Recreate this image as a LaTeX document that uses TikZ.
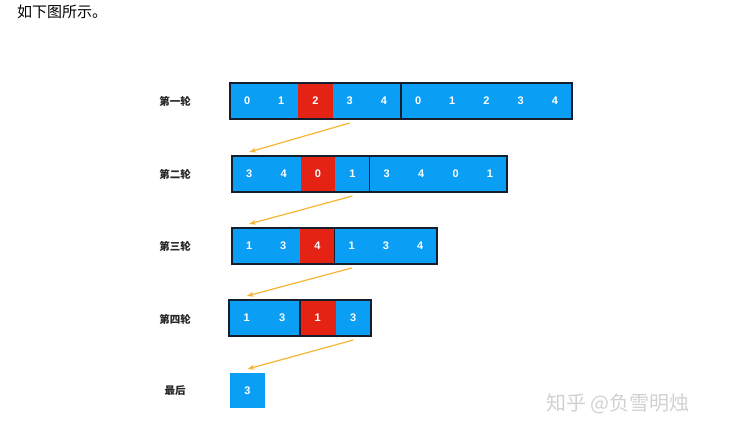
\documentclass[tikz,border=0pt]{standalone}
\usepackage{fontspec}
\setmainfont{Liberation Sans}
\newfontfamily\cjk{Noto Sans CJK SC}
\usetikzlibrary{arrows.meta, positioning}
\definecolor{cellblue}{RGB}{10,158,245}
\definecolor{cellred}{RGB}{228,35,20}
\definecolor{arrorange}{RGB}{245,180,50}
\definecolor{framedark}{RGB}{20,30,45}
\tikzset{
  cell/.style ={rectangle, fill=cellblue, text=white, inner sep=0pt, outer sep=0pt,
                minimum width=34.2pt, minimum height=36pt,
                font=\fontsize{11}{13}\selectfont\bfseries},
  hot/.style  ={cell, fill=cellred},
  frame/.style={draw=framedark, line width=1.6pt},
  lbl/.style  ={font=\cjk\fontsize{10.5}{12}\selectfont\bfseries, text=black!85},
  arr/.style  ={-{Stealth[length=7pt, width=5pt]}, draw=arrorange, line width=1.2pt}
}
\begin{document}
\begin{tikzpicture}[x=1pt, y=-1pt]
    \useasboundingbox (0,0) rectangle (732,429);
    \node[font=\cjk\fontsize{15}{17}\selectfont, anchor=west, inner sep=0pt] (title) at (17,12) {如下图所示。};
    % first round
    \node[lbl] (l1) at (175,101) {第一轮};
    \node[cell, anchor=west] (a0) at (230,101) {0};
    \node[cell, right=0pt of a0] (a1) {1};
    \node[hot, right=0pt of a1] (a2) {2};
    \node[cell, right=0pt of a2] (a3) {3};
    \node[cell, right=0pt of a3] (a4) {4};
    \node[cell, right=0pt of a4] (a5) {0};
    \node[cell, right=0pt of a5] (a6) {1};
    \node[cell, right=0pt of a6] (a7) {2};
    \node[cell, right=0pt of a7] (a8) {3};
    \node[cell, right=0pt of a8] (a9) {4};
    \draw[frame] (a0.north west) rectangle (a9.south east);
    \draw[frame] (a4.north east) -- (a4.south east);
    % second round
    \node[lbl] (l2) at (175,174) {第二轮};
    \node[cell, anchor=west, minimum width=34.4pt] (b0) at (232,174) {3};
    \node[cell, right=0pt of b0, minimum width=34.4pt] (b1) {4};
    \node[hot, right=0pt of b1, minimum width=34.4pt] (b2) {0};
    \node[cell, right=0pt of b2, minimum width=34.4pt] (b3) {1};
    \node[cell, right=0pt of b3, minimum width=34.4pt] (b4) {3};
    \node[cell, right=0pt of b4, minimum width=34.4pt] (b5) {4};
    \node[cell, right=0pt of b5, minimum width=34.4pt] (b6) {0};
    \node[cell, right=0pt of b6, minimum width=34.4pt] (b7) {1};
    \draw[frame] (b0.north west) rectangle (b7.south east);
    \draw[frame] (b3.north east) -- (b3.south east);
    % third round
    \node[lbl] (l3) at (175,246) {第三轮};
    \node[cell, anchor=west] (c0) at (232,246) {1};
    \node[cell, right=0pt of c0] (c1) {3};
    \node[hot, right=0pt of c1] (c2) {4};
    \node[cell, right=0pt of c2] (c3) {1};
    \node[cell, right=0pt of c3] (c4) {3};
    \node[cell, right=0pt of c4] (c5) {4};
    \draw[frame] (c0.north west) rectangle (c5.south east);
    \draw[frame] (c2.north east) -- (c2.south east);
    % fourth round
    \node[lbl] (l4) at (175,319) {第四轮};
    \node[cell, anchor=west, minimum width=35.5pt] (d0) at (229,318) {1};
    \node[cell, right=0pt of d0, minimum width=35.5pt] (d1) {3};
    \node[hot, right=0pt of d1, minimum width=35.5pt] (d2) {1};
    \node[cell, right=0pt of d2, minimum width=35.5pt] (d3) {3};
    \draw[frame] (d0.north west) rectangle (d3.south east);
    \draw[frame] (d1.north east) -- (d1.south east);
    % last
    \node[lbl] (l5) at (175,391) {最后};
    \node[cell, anchor=west, minimum width=35pt, minimum height=35pt] (e0) at (230,390.5) {3};
    \draw[arr] ([yshift=-4pt]a3.south) -- ([yshift=4pt]b0.north);
    \draw[arr] ([yshift=-4pt]b3.south) -- ([yshift=4pt]c0.north);
    \draw[arr] ([yshift=-4pt]c3.south) -- ([yshift=4pt]d0.north);
    \draw[arr] ([yshift=-4pt]d3.south) -- ([yshift=4pt]e0.north);
    \node[font=\cjk\fontsize{20}{22}\selectfont, text=black!18, anchor=west] (mark) at (543,404) {知乎 @负雪明烛};
  \end{tikzpicture}
\end{document}
